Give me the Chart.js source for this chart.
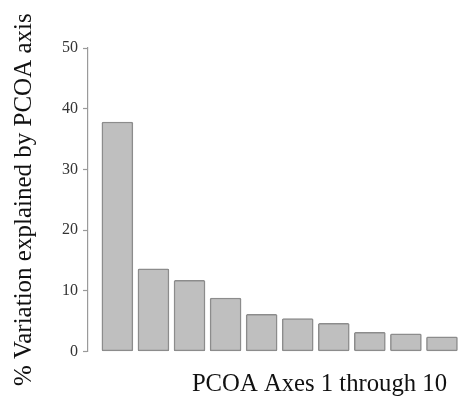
<!DOCTYPE html>
<html>
<head>
<meta charset="utf-8">
<script src="https://cdn.jsdelivr.net/npm/chart.js@4/dist/chart.umd.min.js"></script>
<style>
html,body{margin:0;padding:0;background:#fff;}
#wrap{width:462px;height:407px;}
</style>
</head>
<body>
<div id="wrap"><canvas id="c" width="462" height="407"></canvas></div>
<script>
const axisNumbers = [1, 2, 3, 4, 5, 6, 7, 8, 9, 10];
const variationExplained = [37.8, 13.6, 11.7, 8.8, 6.1, 5.4, 4.6, 3.15, 2.9, 2.4];
const yTickValues = [0, 10, 20, 30, 40, 50];
const yTitle = '% Variation explained by PCOA axis';
const xTitle = 'PCOA Axes 1 through 10';

const serif = '"Liberation Serif", "Times New Roman", serif';

new Chart(document.getElementById('c'), {
  type: 'bar',
  data: {
    labels: axisNumbers,
    datasets: [{
      data: variationExplained,
      backgroundColor: '#bfbfbf',
      borderColor: '#8c8c8c',
      borderWidth: 1.5,
      borderRadius: 1.5,
      borderSkipped: false,
      barThickness: 31,
      clip: false
    }]
  },
  options: {
    responsive: false,
    animation: false,
    devicePixelRatio: 1,
    layout: { padding: { top: 48, right: 15, left: 9, bottom: 8 } },
    plugins: { legend: { display: false }, tooltip: { enabled: false } },
    scales: {
      x: {
        type: 'linear',
        offset: false,
        min: 0.185,
        max: 10.14,
        grid: { display: false, offset: false },
        border: { display: false },
        ticks: { display: false },
        title: {
          display: true,
          text: xTitle,
          align: 'end',
          color: '#111',
          font: { family: serif, size: 24.7 },
          padding: { top: 10, bottom: 0 }
        }
      },
      y: {
        min: 0,
        max: 50,
        afterBuildTicks: (s) => { s.ticks = yTickValues.map(v => ({ value: v })); },
        grid: { drawOnChartArea: false, drawTicks: true, tickLength: 5, color: '#9a9a9a', tickWidth: 1.2 },
        border: { display: true, color: '#9a9a9a', width: 1.2 },
        ticks: { color: '#333', padding: 5, font: { family: serif, size: 16 } },
        title: {
          display: true,
          text: yTitle,
          color: '#111',
          font: { family: serif, size: 25 },
          padding: { top: 0, bottom: 18 }
        }
      }
    }
  }
});
</script>
</body>
</html>
